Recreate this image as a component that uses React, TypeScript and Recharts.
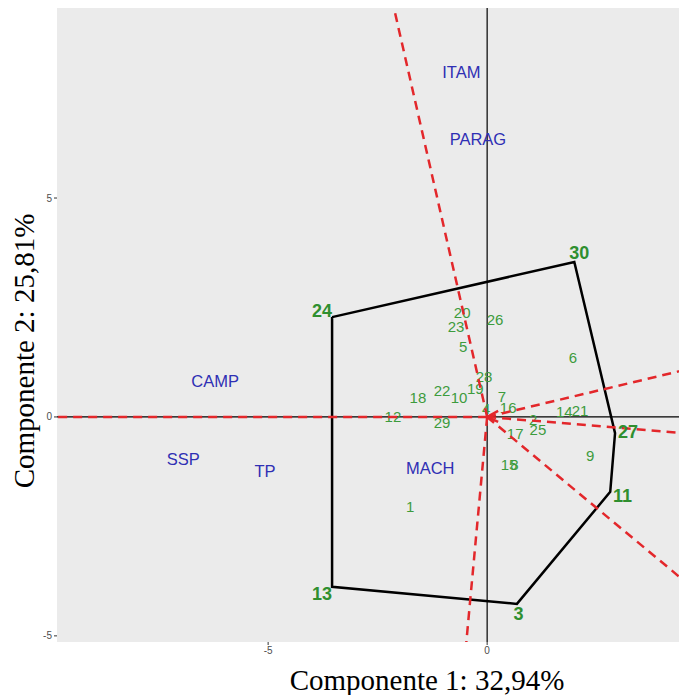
import { ScatterChart, Scatter, XAxis, YAxis, CartesianGrid } from "recharts";

// plot window (biplot uses equal scaling on both axes)
const X_DOMAIN = [-9.82, 4.38];
const Y_DOMAIN = [-5.14, 9.34];
const X_TICKS = [-5, 0];
const Y_TICKS = [-5, 0, 5];

// genotypes on the convex hull, in drawing order
const hullNames = ["24", "30", "27", "11", "3", "13"];
const hullX = [-3.54, 1.99, 2.92, 2.81, 0.68, -3.54];
const hullY = [2.28, 3.54, -0.37, -1.71, -4.27, -3.88];

// remaining genotypes
const genoNames = ["1", "2", "4", "5", "6", "7", "8", "9", "10", "12", "14", "15", "16", "17", "18", "19", "20", "21", "22", "23", "25", "26", "28", "29"];
const genoX = [-1.76, 1.05, -0.02, -0.55, 1.96, 0.34, 0.62, 2.35, -0.64, -2.15, 1.76, 0.5, 0.48, 0.64, -1.58, -0.27, -0.57, 2.12, -1.03, -0.71, 1.16, 0.18, -0.07, -1.03];
const genoY = [-2.05, -0.07, 0.18, 1.6, 1.35, 0.46, -1.1, -0.89, 0.43, 0.0, 0.11, -1.1, 0.21, -0.39, 0.43, 0.64, 2.37, 0.14, 0.59, 2.05, -0.3, 2.21, 0.91, -0.14];

// environments
const envNames = ["ITAM", "PARAG", "CAMP", "SSP", "TP", "MACH"];
const envX = [-0.59, -0.21, -6.21, -6.94, -5.07, -1.3];
const envY = [7.88, 6.35, 0.82, -0.96, -1.23, -1.16];

const GREEN = "#3d9b3d";
const GREEN_DARK = "#2f8f2f";
const BLUE = "#2f2fb4";
const RED = "#e3272b";

const hull = hullNames.map((n, i) => ({ name: n, x: hullX[i], y: hullY[i] }));
const hullClosed = [...hull, hull[0]];
const genos = genoNames.map((n, i) => ({ name: n, x: genoX[i], y: genoY[i] }));
const envs = envNames.map((n, i) => ({ name: n, x: envX[i], y: envY[i] }));

const cxHull = hullX.reduce((a, b) => a + b, 0) / hullX.length;
const cyHull = hullY.reduce((a, b) => a + b, 0) / hullY.length;

// rays from origin perpendicular to each hull side, out to the panel edge
const rays = hull.map((a, i) => {
  const b = hull[(i + 1) % hull.length];
  const dx = b.x - a.x, dy = b.y - a.y;
  const len = Math.hypot(dx, dy);
  const ux = dx / len, uy = dy / len;
  const proj = a.x * ux + a.y * uy;
  const px = a.x - proj * ux, py = a.y - proj * uy;
  let t = Infinity;
  if (px > 0) t = Math.min(t, X_DOMAIN[1] / px);
  if (px < 0) t = Math.min(t, X_DOMAIN[0] / px);
  if (py > 0) t = Math.min(t, Y_DOMAIN[1] / py);
  if (py < 0) t = Math.min(t, Y_DOMAIN[0] / py);
  return [{ x: 0, y: 0 }, { x: px * t, y: py * t }];
});

const hAxis = [{ x: X_DOMAIN[0], y: 0 }, { x: X_DOMAIN[1], y: 0 }];
const vAxis = [{ x: 0, y: Y_DOMAIN[0] }, { x: 0, y: Y_DOMAIN[1] }];

const Nothing = () => <g />;

const GenoLabel = (props: any) => (
  <text x={props.cx} y={props.cy} dy="0.35em" textAnchor="middle" fill={GREEN}
    fontSize={15} fontFamily="Liberation Sans, Arial, sans-serif">{props.payload.name}</text>
);

const HullLabel = (props: any) => {
  const { payload } = props;
  const vx = payload.x - cxHull, vy = payload.y - cyHull;
  const m = Math.hypot(vx, vy);
  return (
    <text x={props.cx + (vx / m) * 13} y={props.cy - (vy / m) * 10} dy="0.35em" textAnchor="middle"
      fill={GREEN_DARK} fontSize={18} fontWeight="bold" fontFamily="Liberation Sans, Arial, sans-serif">
      {payload.name}
    </text>
  );
};

const EnvLabel = (props: any) => (
  <text x={props.cx} y={props.cy} dy="0.35em" textAnchor="middle" fill={BLUE}
    fontSize={16.5} fontFamily="Liberation Sans, Arial, sans-serif">{props.payload.name}</text>
);

const Arrowhead = (props: any) => (
  <path d={`M${props.cx + 11},${props.cy - 6} L${props.cx},${props.cy} L${props.cx + 11},${props.cy + 5}`}
    stroke={RED} strokeWidth={2.5} fill="none" />
);

const tickStyle = { fontSize: 10, fill: "#4d4d4d", fontFamily: "Liberation Sans, Arial, sans-serif" };

export default function App() {
  return (
    <div style={{ position: "absolute", left: 0, top: 0, width: 679, height: 695, background: "#fff" }}>
      <ScatterChart width={679} height={695} margin={{ top: 8, right: 0, bottom: 0, left: 0 }}>
        <CartesianGrid fill="#ebebeb" stroke="none" horizontal={false} vertical={false} />
        <XAxis type="number" dataKey="x" domain={X_DOMAIN} ticks={X_TICKS} allowDataOverflow
          height={53} axisLine={false} tickSize={3} tickLine={{ stroke: "#333" }} tick={tickStyle} />
        <YAxis type="number" dataKey="y" domain={Y_DOMAIN} ticks={Y_TICKS} allowDataOverflow
          width={57} axisLine={false} tickSize={3} tickLine={{ stroke: "#333" }} tick={tickStyle} />
        <Scatter data={hAxis} line={{ stroke: "#000", strokeWidth: 1.2 }} shape={Nothing} isAnimationActive={false} legendType="none" />
        <Scatter data={vAxis} line={{ stroke: "#000", strokeWidth: 1.2 }} shape={Nothing} isAnimationActive={false} legendType="none" />
        <Scatter data={genos} shape={GenoLabel} isAnimationActive={false} />
        <Scatter data={envs} shape={EnvLabel} isAnimationActive={false} />
        <Scatter data={hullClosed} line={{ stroke: "#000", strokeWidth: 2.5 }} shape={Nothing} isAnimationActive={false} />
        {rays.map((r, i) => (
          <Scatter key={i} data={r} line={{ stroke: RED, strokeWidth: 2.5, strokeDasharray: "9 6" }}
            shape={Nothing} isAnimationActive={false} />
        ))}
        <Scatter data={[{ x: 0, y: 0 }]} shape={Arrowhead} isAnimationActive={false} />
        <Scatter data={hull} shape={HullLabel} isAnimationActive={false} />
      </ScatterChart>
      <div style={{ position: "absolute", left: 427, top: 680, transform: "translate(-50%, -50%)", whiteSpace: "nowrap",
        fontFamily: "Liberation Serif, Times New Roman, serif", fontSize: 29, color: "#000" }}>
        Componente 1: 32,94%
      </div>
      <div style={{ position: "absolute", left: 24, top: 351, transform: "translate(-50%, -50%) rotate(-90deg)", whiteSpace: "nowrap",
        fontFamily: "Liberation Serif, Times New Roman, serif", fontSize: 29, color: "#000" }}>
        Componente 2: 25,81%
      </div>
    </div>
  );
}
